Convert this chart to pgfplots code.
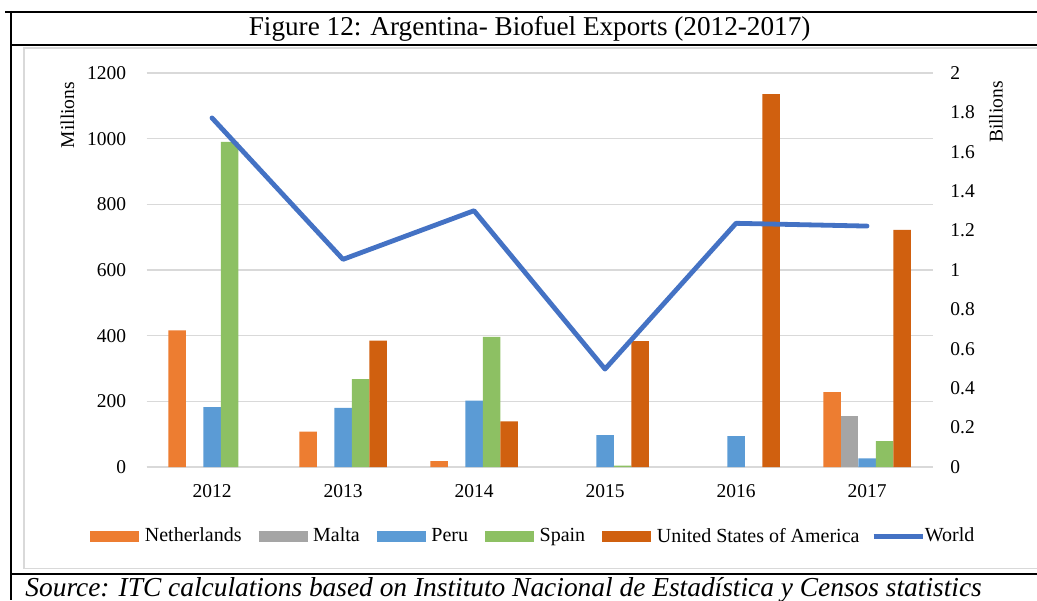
\documentclass[border=0pt]{standalone}
\usepackage{fontspec}
\setmainfont{Liberation Serif}
\usepackage{pgfplots}
\pgfplotsset{compat=1.18}
\definecolor{cNL}{HTML}{ED7D31}
\definecolor{cMT}{HTML}{A5A5A5}
\definecolor{cPE}{HTML}{5B9BD5}
\definecolor{cES}{HTML}{8DC063}
\definecolor{cUS}{HTML}{D0600F}
\definecolor{cW}{HTML}{4472C4}
\definecolor{gridc}{HTML}{D9D9D9}
\begin{document}
\begin{tikzpicture}
\useasboundingbox (0,0) rectangle (518.5pt,300pt);
% frame
\draw[line width=1.25pt] (2.5pt,294pt) -- (518.5pt,294pt);
\draw[line width=1pt] (5.5pt,294.6pt) -- (5.5pt,0pt);
\draw[line width=1pt] (5.5pt,277.5pt) -- (518.5pt,277.5pt);
\draw[line width=1.25pt] (5.5pt,13pt) -- (518.5pt,13pt);
\draw[color=gridc, line width=0.6pt] (12pt,15.8pt) rectangle (521pt,276pt);
\node[font=\fontsize{13.6}{16}\selectfont] at (264.8pt,285.5pt) {Figure 12: Argentina- Biofuel Exports (2012-2017)};
\node[anchor=base west, font=\fontsize{13.7}{16}\selectfont\itshape, inner sep=0pt] at (12.5pt,1.6pt) {Source: ITC calculations based on Instituto Nacional de Estadística y Censos statistics};

\begin{axis}[
  at={(73.25pt,66.5pt)}, anchor=south west, scale only axis,
  width=393pt, height=197pt,
  xmin=-0.5, xmax=5.5, ymin=0, ymax=1200,
  ybar=0pt, bar width=8.75pt,
  axis x line*=bottom, axis y line*=left,
  y axis line style={draw=none},
  x axis line style={draw=gridc, line width=1pt, -},
  major tick length=0pt,
  xtick={0,1,2,3,4,5}, xticklabels={2012,2013,2014,2015,2016,2017},
  ytick={0,200,400,600,800,1000,1200},
  yticklabels={0,200,400,600,800,1000,1200},
  ymajorgrids, grid style={color=gridc, line width=0.75pt},
  tick label style={font=\fontsize{9.75}{11}\selectfont},
  yticklabel style={inner xsep=0pt, xshift=-10pt},
  xticklabel style={inner ysep=0pt, yshift=-8.5pt},
]
\addplot[fill=cNL, draw=none] coordinates {(0,416) (1,108) (2,18) (5,228)};
\addplot[fill=cMT, draw=none] coordinates {(5,155)};
\addplot[fill=cPE, draw=none] coordinates {(0,182) (1,180) (2,202) (3,97) (4,94) (5,26)};
\addplot[fill=cES, draw=none] coordinates {(0,990) (1,268) (2,396) (3,4) (5,79)};
\addplot[fill=cUS, draw=none] coordinates {(1,385) (2,139) (3,383) (4,1136) (5,722)};
\end{axis}

\begin{axis}[
  at={(73.25pt,66.5pt)}, anchor=south west, scale only axis,
  width=393pt, height=197pt,
  xmin=-0.5, xmax=5.5, ymin=0, ymax=2,
  axis y line*=right, axis x line=none,
  y axis line style={draw=none},
  major tick length=0pt,
  ytick={0,0.2,0.4,0.6,0.8,1,1.2,1.4,1.6,1.8,2},
  yticklabels={0,0.2,0.4,0.6,0.8,1,1.2,1.4,1.6,1.8,2},
  tick label style={font=\fontsize{9.75}{11}\selectfont},
  yticklabel style={inner xsep=0pt, xshift=8.75pt},
  legend image code/.code={\draw[#1, line cap=butt] (0pt,0pt) -- (24.5pt,0pt);},
  legend columns=6,
  legend style={draw=none, fill=none, at={(0.4875,-0.1764)}, anchor=center,
    font=\fontsize{10}{12}\selectfont,
    /tikz/every even column/.append style={column sep=5.8pt},
    cells={anchor=west}, nodes={inner xsep=0pt, inner ysep=1pt}},
]
\addlegendimage{line width=5.5pt, color=cNL}
\addlegendentry{Netherlands}
\addlegendimage{line width=5.5pt, color=cMT}
\addlegendentry{Malta}
\addlegendimage{line width=5.5pt, color=cPE}
\addlegendentry{Peru}
\addlegendimage{line width=5.5pt, color=cES}
\addlegendentry{Spain}
\addlegendimage{line width=5.5pt, color=cUS}
\addlegendentry{United States of America}
\addplot[color=cW, line width=2.4pt, line join=round, line cap=round, mark=none]
  coordinates {(0,1.772) (1,1.054) (2,1.301) (3,0.497) (4,1.237) (5,1.223)};
\addlegendentry{World}
\end{axis}

\node[rotate=90, font=\fontsize{9.75}{11}\selectfont] at (33.75pt,242.5pt) {Millions};
\node[rotate=90, font=\fontsize{9.75}{11}\selectfont] at (498pt,244pt) {Billions};
\end{tikzpicture}
\end{document}
